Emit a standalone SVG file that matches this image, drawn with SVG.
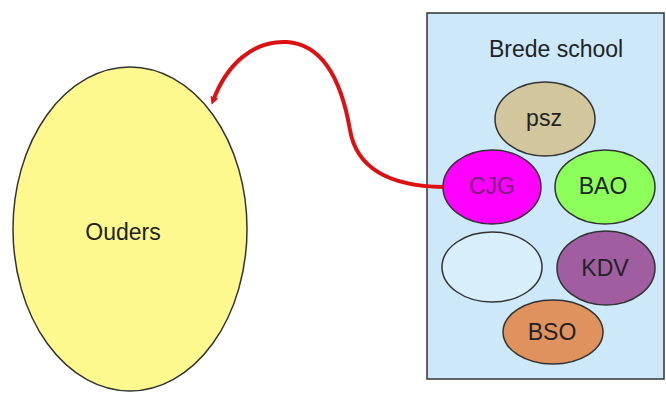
<svg xmlns="http://www.w3.org/2000/svg" width="666" height="394" viewBox="0 0 666 394">
<style>
.n{stroke:#333;stroke-width:1.5}
.t{font-family:"Liberation Sans",Arial,sans-serif;font-size:23px;text-anchor:middle;fill:#222}
</style>
<defs>
<marker id="ah" markerWidth="8" markerHeight="8" refX="4" refY="4" orient="auto" markerUnits="userSpaceOnUse" viewBox="0 0 8 8"><path d="M0,0 L8,4 L0,8 z" fill="#dd1111"/></marker>
</defs>
<rect width="666" height="394" fill="#fff"/>
<g id="ouders"><ellipse class="n" cx="130" cy="229" rx="117" ry="162" fill="#fdf98f"/><text class="t" x="123" y="240">Ouders</text></g>
<g id="brede-school"><rect x="427" y="13" width="237" height="366" fill="#cde8f8" stroke="#333" stroke-width="1.5"/><text class="t" x="556" y="57">Brede school</text></g>
<g id="psz"><ellipse class="n" cx="545" cy="119" rx="50" ry="37" fill="#d2c79c"/><text class="t" x="544" y="126">psz</text></g>
<g id="cjg"><ellipse class="n" cx="492" cy="187" rx="49" ry="37" fill="#ff00ff" stroke="#553377"/><text class="t" x="492" y="194" style="fill:#7a1f7a">CJG</text></g>
<g id="bao"><ellipse class="n" cx="605" cy="187" rx="50" ry="37" fill="#8cff5a"/><text class="t" x="603" y="194">BAO</text></g>
<g id="leeg"><ellipse class="n" cx="492" cy="267" rx="50" ry="35" fill="#d8eefa"/></g>
<g id="kdv"><ellipse class="n" cx="606" cy="268" rx="49" ry="37" fill="#a05ea0"/><text class="t" x="605" y="276">KDV</text></g>
<g id="bso"><ellipse class="n" cx="553" cy="332" rx="50" ry="32" fill="#e0925e"/><text class="t" x="552" y="340">BSO</text></g>
<g id="connectors"><path d="M443 187 C385 186 356 165 350 130 C344 95 330 45 287 42 C252 40 226 66 213 101" fill="none" stroke="#dd1111" stroke-width="4" marker-end="url(#ah)"/></g>
</svg>
